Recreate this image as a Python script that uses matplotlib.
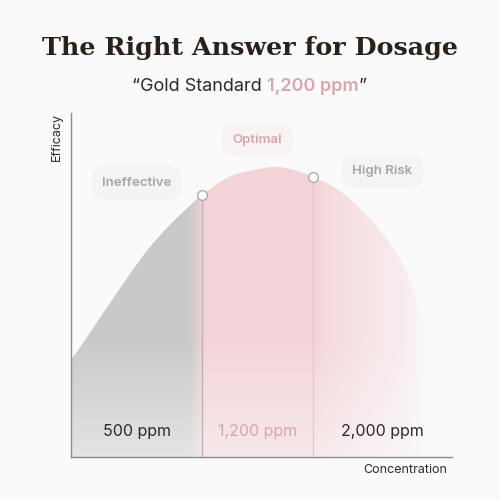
import matplotlib
matplotlib.use("Agg")
import matplotlib.pyplot as plt
import numpy as np
from matplotlib.colors import to_rgb
from matplotlib.path import Path

# curve (concentration scale 0-100, efficacy 0-100)
conc = [0, 3.7, 8.1, 11.5, 14.2, 17.3, 20.7, 24.7, 29.1, 32.5, 34.4, 39.1,
        43.6, 52.8, 58.0, 63.5, 71.4, 80.3, 86.4, 90.3, 92.9, 95.0, 96.9,
        97.9, 98.4]
eff = [28.2, 34.0, 41.3, 46.8, 51.2, 56.1, 61.0, 66.0, 70.9, 74.4, 76.2, 79.9,
       82.3, 84.3, 83.6, 81.4, 76.7, 66.9, 57.3, 47.7, 37.8, 28.2, 18.6,
       7.8, 0]

bounds = [34.4, 63.5]
zones = ["Ineffective", "Optimal", "High Risk"]
doses = ["500 ppm", "1,200 ppm", "2,000 ppm"]

BG = "#fafafa"
PINK_TXT = "#d7a7ad"
SANS = ["Inter", "DejaVu Sans"]


def smooth_area(xs, ys):
    # catmull-rom through the read points, closed along the baseline
    p = np.column_stack([xs, ys])
    verts = [p[0]]
    codes = [Path.MOVETO]
    for i in range(len(p) - 1):
        p0 = p[i - 1] if i > 0 else p[i]
        p1, p2 = p[i], p[i + 1]
        p3 = p[i + 2] if i + 2 < len(p) else p[i + 1]
        verts += [p1 + (p2 - p0) / 6, p2 - (p3 - p1) / 6, p2]
        codes += [Path.CURVE4] * 3
    verts += [(xs[0], 0), (xs[0], 0)]
    codes += [Path.LINETO, Path.CLOSEPOLY]
    return Path(verts, codes)


fig = plt.figure(figsize=(5, 5), dpi=100, facecolor=BG)
ax = fig.add_axes([0.142, 0.086, 0.762, 0.688])
ax.set_facecolor("none")
ax.set_xlim(0, 100)
ax.set_ylim(0, 100)
for s in ["top", "right"]:
    ax.spines[s].set_visible(False)
for s in ["left", "bottom"]:
    ax.spines[s].set_color("#8c8c8c")
    ax.spines[s].set_linewidth(1.0)
ax.set_xticks([])
ax.set_yticks([])

# gradient fill under the curve
n = 500
xx, yy = np.meshgrid(np.linspace(0, 100, n), np.linspace(0, 100, n))
gray = np.array(to_rgb("#c9c9c9"))
pink = np.array(to_rgb("#f3d4d8"))
bg = np.array(to_rgb(BG))
w = np.clip((xx - (bounds[0] - 3.5)) / 4.5, 0, 1)[..., None]
col = gray * (1 - w) + pink * w
t = np.clip((xx - bounds[1]) / (99 - bounds[1]), 0, 1)[..., None]
f = np.clip(0.9 * t ** 0.8 + 0.5 * np.clip((xx - 88) / 10, 0, 1)[..., None], 0, 1)
col = col * (1 - f) + bg * f
v = np.clip((34 - yy) / 34, 0, 1)[..., None]
col = col * (1 - 0.55 * v) + bg * 0.55 * v
img = ax.imshow(col, extent=[0, 100, 0, 100], origin="lower", aspect="auto",
                zorder=1, interpolation="bilinear")
img.set_clip_path(smooth_area(conc, eff), transform=ax.transData)

# boundary lines and markers
marks = np.interp(bounds, conc, eff)
line_cols = ["#b9b3b3", "#e3c6ca"]
for b, m, c in zip(bounds, marks, line_cols):
    ax.plot([b, b], [0, m], color=c, lw=0.9, zorder=3)
ax.plot(bounds, marks, "o", ms=7, mfc="white", mec="#a6a6a6", mew=0.9, zorder=4)

# zone labels
edges = [0] + bounds + [100]
centers = [(edges[i] + edges[i + 1]) / 2 for i in range(3)]
zone_y = [79.7, 92.2, 83.1]
zone_col = ["#a6a6a6", PINK_TXT, "#a6a6a6"]
zone_bg = ["#f4f4f4", "#f8f2f2", "#f4f4f4"]
for c, lab, y, tc, bc in zip(centers, zones, zone_y, zone_col, zone_bg):
    ax.text(c, y, lab, ha="center", va="center", fontsize=9.5, color=tc,
            family=SANS, fontweight="semibold", zorder=5,
            bbox=dict(boxstyle="round,pad=0.8,rounding_size=1.0", fc=bc, ec="none"))

dose_col = ["#2b2b2b", PINK_TXT, "#2b2b2b"]
for c, lab, tc in zip(centers, doses, dose_col):
    ax.text(c, 7.3, lab, ha="center", va="center", fontsize=11.5, color=tc,
            family=SANS, zorder=5)

fig.text(0.114, 0.726, "Efficacy", rotation=90, ha="center", va="center",
         fontsize=9, color="#2b2b2b", family=SANS)
fig.text(0.894, 0.06, "Concentration", ha="right", va="center",
         fontsize=9, color="#2b2b2b", family=SANS)

# title, fitted to the reference width
title = fig.text(0.5, 1 - 48 / 500, "The Right Answer for Dosage", ha="center",
                 va="center", fontsize=24, fontweight="bold", color="#2a211b",
                 family=["DejaVu Serif"])
fig.canvas.draw()
r = fig.canvas.get_renderer()
tw = title.get_window_extent(r).width
title.set_fontsize(24 * 417 / tw)

# subtitle in three colored pieces
parts = [("\u201cGold Standard ", "#2b2b2b", "normal"),
         ("1,200 ppm", PINK_TXT, "semibold"),
         ("\u201d", "#2b2b2b", "normal")]
objs = [fig.text(0, 1 - 87 / 500, p, ha="left", va="center", fontsize=13,
                 color=c, fontweight=fw, family=SANS) for p, c, fw in parts]
fig.canvas.draw()
widths = [o.get_window_extent(r).width for o in objs]
x0 = 249 - sum(widths) / 2
for o, wd in zip(objs, widths):
    o.set_x(x0 / 500)
    x0 += wd

fig.savefig("out.png", dpi=100, facecolor=BG)
